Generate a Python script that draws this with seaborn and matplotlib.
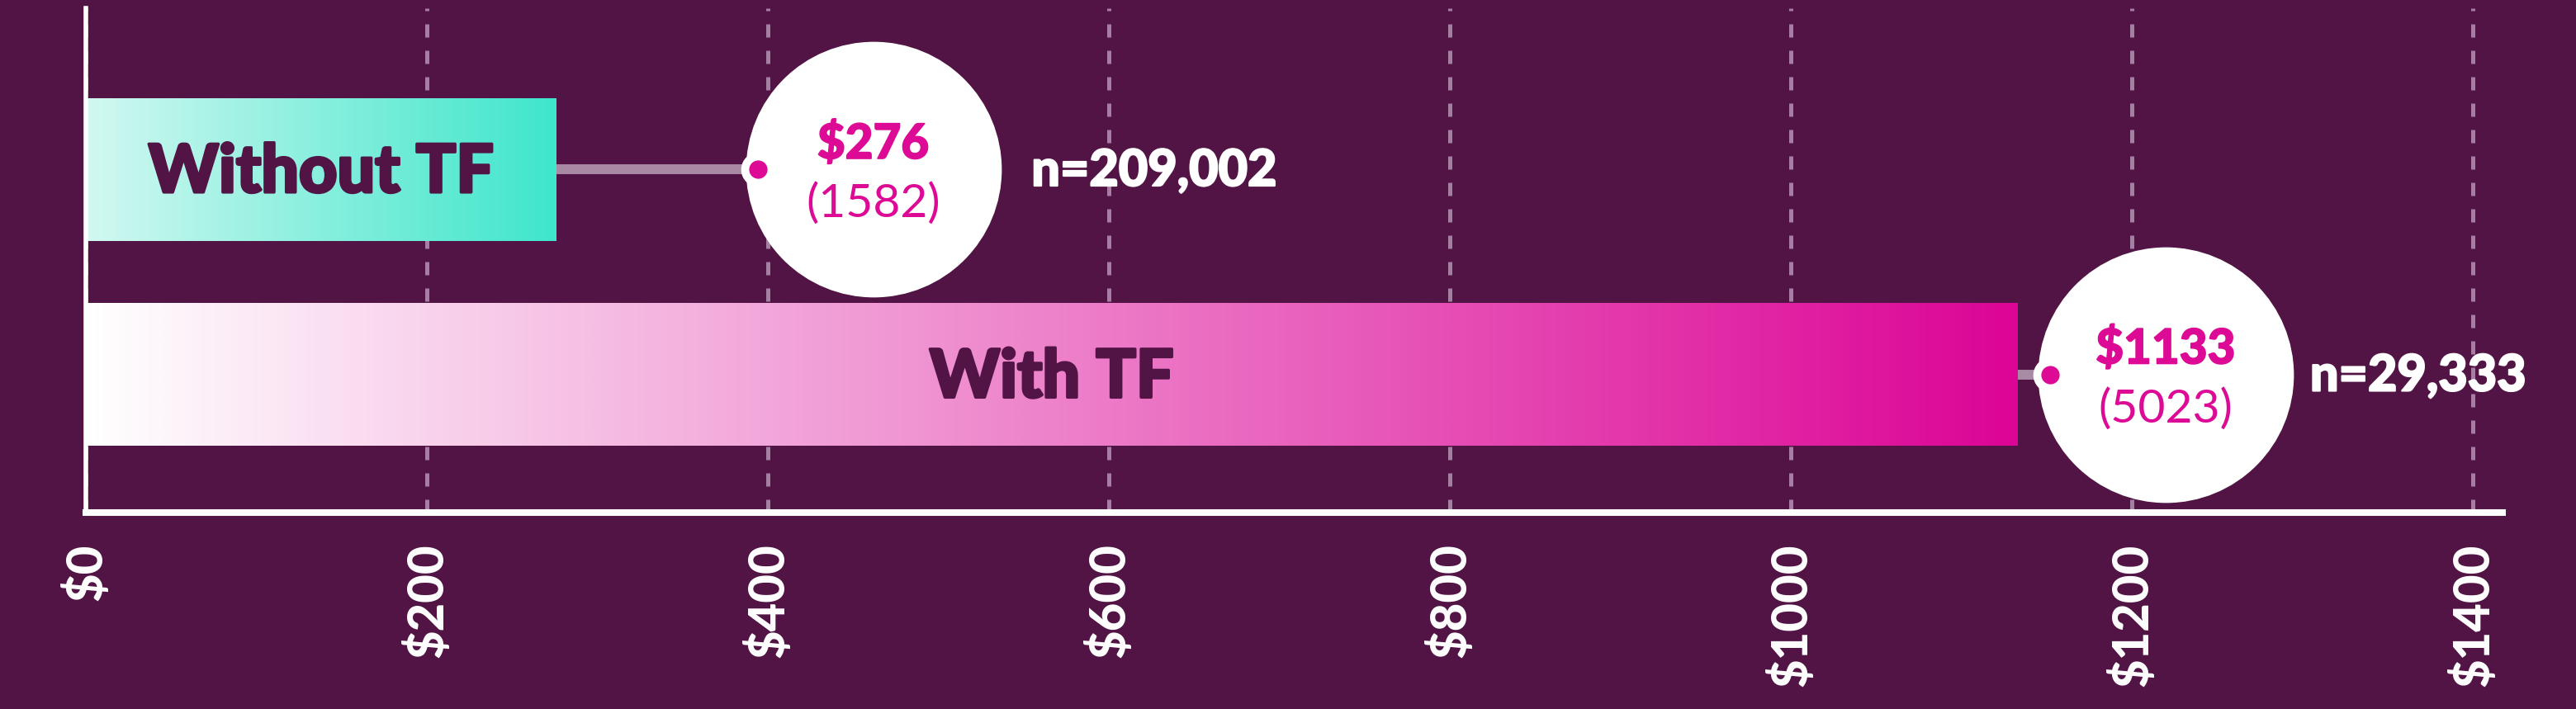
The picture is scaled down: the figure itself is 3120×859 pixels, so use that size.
import numpy as np
import pandas as pd
import matplotlib
matplotlib.use("Agg")
import matplotlib.pyplot as plt
import matplotlib.transforms as mtransforms
import matplotlib.patheffects as pe
from matplotlib import font_manager as fm
from matplotlib.colors import LinearSegmentedColormap
import seaborn as sns

# ---------------- data ----------------
categories = ["Without TF", "With TF"]
mean_cost = [276, 1133]
sd_cost = [1582, 5023]
n_counts = ["209,002", "29,333"]
tick_values = [0, 200, 400, 600, 800, 1000, 1200, 1400]
tick_labels = ["$0", "$200", "$400", "$600", "$800", "$1000", "$1200", "$1400"]

# ---------------- layout / style ----------------
BG = "#521445"
MAGENTA = "#dc0a95"
GRID = "#a47fa2"
CONNECT = "#a98aa5"
bar_gradients = [["#d2f8f1", "#3ee6cb"], ["#ffffff", "#dc0596"]]
bubble_gap = [118, 19]          # data-unit gap between bar end and bubble dot
n_offset_pt = [138, 126]        # text offset from bubble centre (points)


def font_file(names, weight):
    for nm in names:
        for f in fm.fontManager.ttflist:
            if f.fname.split("/")[-1].lower() == nm.lower():
                return lambda size, p=f.fname: fm.FontProperties(fname=p, size=size)
    return lambda size: fm.FontProperties(family=["Lato", "DejaVu Sans"], weight=weight, size=size)


HEAVY = font_file(["Lato-Black.ttf", "Lato-Heavy.ttf", "Lato-ExtraBold.ttf"], "bold")
REG = font_file(["Lato-Regular.ttf"], "normal")


def thick(color, lw):
    return [pe.withStroke(linewidth=lw, foreground=color)]


sns.set_theme(style="white", rc={"axes.facecolor": BG, "figure.facecolor": BG})
plt.rcParams["font.family"] = ["Lato", "DejaVu Sans"]

fig = plt.figure(figsize=(31.2, 8.59), dpi=100, facecolor=BG)
ax = fig.add_axes([104 / 3120, 1 - 621 / 859, (3031 - 104) / 3120, 611 / 859])
ax.set_facecolor(BG)

df = pd.DataFrame({"category": categories, "mean": mean_cost})
sns.barplot(data=df, x="mean", y="category", orient="h", width=0.696,
            color="white", saturation=1, ax=ax, zorder=2)

grad = np.linspace(0, 1, 512).reshape(1, -1)
for patch, cols in zip(ax.patches, bar_gradients):
    cmap = LinearSegmentedColormap.from_list("g", cols)
    x0, y0 = patch.get_x(), patch.get_y()
    w, h = patch.get_width(), patch.get_height()
    ax.imshow(grad, cmap=cmap, extent=[x0, x0 + w, y0 + h, y0], aspect="auto",
              zorder=2, interpolation="bicubic")
    patch.set_facecolor("none")
    patch.set_edgecolor("none")

# bar labels
for i, (cat, v) in enumerate(zip(categories, mean_cost)):
    tr = mtransforms.offset_copy(ax.transData, fig=fig, x=0, y=-20, units="points")
    ax.text(v / 2, i, cat, transform=tr, ha="center", va="baseline",
            fontproperties=HEAVY(58), color=BG, zorder=4,
            path_effects=thick(BG, 2.5))

# connectors, bubbles, dots, texts
for i, (v, sd, n, gap) in enumerate(zip(mean_cost, sd_cost, n_counts, bubble_gap)):
    dx = v + gap
    ax.plot([v, dx], [i, i], color=CONNECT, lw=8.6, solid_capstyle="butt", zorder=3)
    tr_c = mtransforms.offset_copy(ax.transData, fig=fig, x=100.8, y=0, units="points")
    ax.plot([dx], [i], marker="o", ms=223, color="white", mew=0, transform=tr_c, zorder=5)
    ax.plot([dx], [i], marker="o", ms=30, color="white", mew=0, zorder=6)
    ax.plot([dx], [i], marker="o", ms=16, color=MAGENTA, mew=0, zorder=7)
    tr1 = mtransforms.offset_copy(ax.transData, fig=fig, x=100.8, y=9.4, units="points")
    ax.text(dx, i, f"${v}", transform=tr1, ha="center", va="baseline",
            fontproperties=HEAVY(42), color=MAGENTA, zorder=8,
            path_effects=thick(MAGENTA, 1.2))
    tr2 = mtransforms.offset_copy(ax.transData, fig=fig, x=100.8, y=-41.8, units="points")
    ax.text(dx, i, f"({sd})", transform=tr2, ha="center", va="baseline",
            fontproperties=REG(41), color=MAGENTA, zorder=8)
    tr3 = mtransforms.offset_copy(ax.transData, fig=fig, x=100.8 + n_offset_pt[i],
                                  y=-14.4, units="points")
    ax.text(dx, i, f"n={n}", transform=tr3, ha="left", va="baseline",
            fontproperties=HEAVY(44), color="white", zorder=8,
            path_effects=thick("white", 1.5))

# axes styling
ax.set_xlim(0, (3031 - 104) / 2.065)
ax.set_ylim(1.674, -0.785)
ax.set_xticks(tick_values)
ax.set_xticklabels(tick_labels, rotation=90, color="white")
for lab in ax.get_xticklabels():
    lab.set_fontproperties(HEAVY(43))
ax.tick_params(axis="x", length=0, pad=27)
ax.tick_params(axis="y", left=False, labelleft=False)
ax.set_xlabel("")
ax.set_ylabel("")
ax.set_axisbelow(True)
ax.xaxis.grid(True, color=GRID, lw=3.6, linestyle=(0, (3.2, 3.2)))
ax.yaxis.grid(False)
for s in ["top", "right"]:
    ax.spines[s].set_visible(False)
ax.spines["left"].set_color("white")
ax.spines["left"].set_linewidth(4)
ax.spines["bottom"].set_color("white")
ax.spines["bottom"].set_linewidth(5.8)
for s in ["left", "bottom"]:
    ax.spines[s].set_zorder(9)

fig.savefig("out.png", dpi=100, facecolor=BG)
